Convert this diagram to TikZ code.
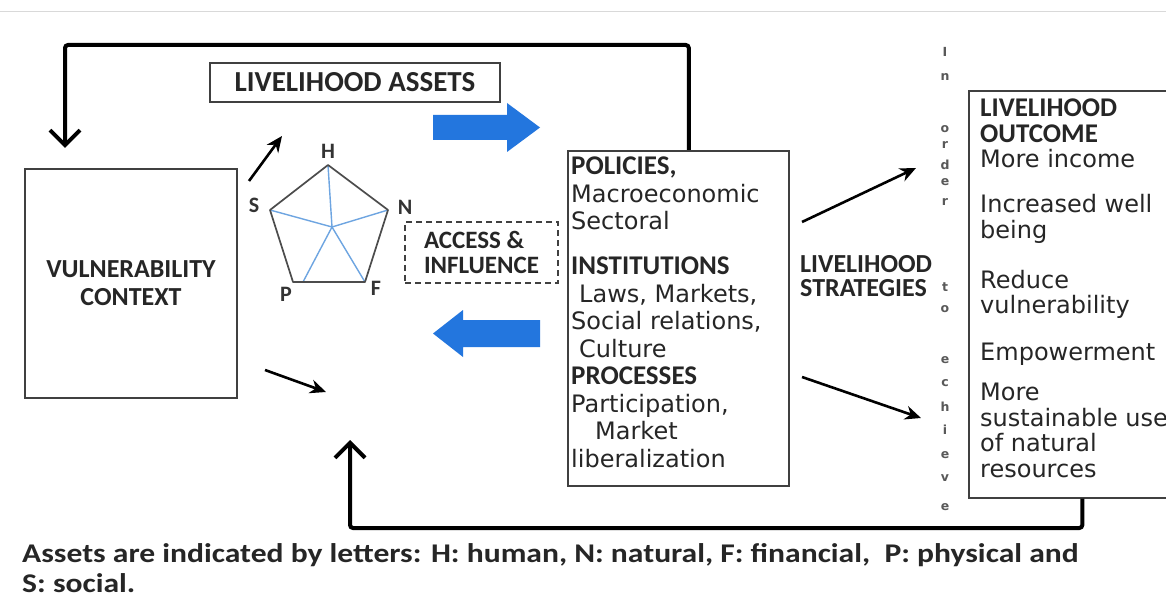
\documentclass[tikz,border=0pt]{standalone}
\usepackage{fontspec}
\setmainfont{DejaVu Sans}
\newfontfamily\calib{Carlito}
\newfontfamily\calibwide{Carlito}[FakeStretch=1.17]
\usetikzlibrary{arrows.meta}
\definecolor{arrowblue}{RGB}{35,118,222}
\definecolor{spokeblue}{RGB}{110,165,225}
\newcommand{\hd}{\calib\bfseries\fontsize{27}{27}\selectfont}
\newcommand{\bd}{\fontsize{24}{27.5}\selectfont}
\tikzset{
  box/.style={draw=black!75, line width=1.6pt, inner sep=0pt},
  txt/.style={align=left, inner sep=0pt, text=black!85},
  captxt/.style={inner sep=0pt, anchor=base west, text=black!85, font={\calibwide\bfseries\fontsize{27}{27}\selectfont}},
  feedback/.style={line width=4pt, rounded corners=3pt, -{Straight Barb[length=15pt,width=30pt]}},
  sarrow/.style={line width=2.6pt, -{Stealth[length=16pt,width=14pt]}},
  pent/.style={draw=black!70, line width=1.7pt, line join=round},
  spoke/.style={draw=spokeblue, line width=1.4pt},
  lbl/.style={inner sep=0pt, text=black!80, font=\calib\bfseries\fontsize{22}{22}\selectfont},
  vlet/.style={inner sep=0pt, text=black!65, font=\bfseries\fontsize{12.5}{12.5}\selectfont}
}
\begin{document}
\begin{tikzpicture}[x=1pt, y=-1pt]
    \useasboundingbox (0,0) rectangle (1166,601);
    \clip (0,0) rectangle (1166,601);
    \fill[white] (0,0) rectangle (1166,601);
    \draw[black!15, line width=0.8pt] (0,11) -- (1166,11);

    \node[box, minimum width=212, minimum height=229, align=center, text=black!85,
          font={\hd\fontsize{26}{28}\selectfont}] (vul) at (131,283.5) {VULNERABILITY\\CONTEXT};
    \node[box, minimum width=290, minimum height=39, text=black!85,
          font={\hd\fontsize{29}{30}\selectfont}] (assets) at (355,82.5) {LIVELIHOOD ASSETS};
    \node[box, dashed, dash pattern=on 6pt off 4pt, minimum width=153, minimum height=61, align=left,
          text=black!85, font={\hd\fontsize{25}{25}\selectfont}] (access) at (481.5,252.5) {ACCESS \&\\INFLUENCE};

    \node[box, minimum width=221, minimum height=335, anchor=north west] (pol) at (567,150) {};
    \node[txt, anchor=north west, font=\bd] (poltxt) at (571,157)
        {{\hd POLICIES,}\\ Macroeconomic\\ Sectoral\\[17.5pt]
         {\hd INSTITUTIONS}\\ \hspace*{8pt}Laws, Markets,\\ Social relations,\\ \hspace*{8pt}Culture\\
         {\hd PROCESSES}\\ Participation,\\ \hspace*{24pt}Market\\ liberalization};

    \node[txt, anchor=north west, font={\hd\fontsize{26}{24}\selectfont}] (strat) at (800,255)
        {LIVELIHOOD\\STRATEGIES};

    \node[box, minimum width=215, minimum height=407, anchor=north west] (outc) at (968,90) {};
    \node[txt, anchor=north west, font={\fontsize{24}{25.5}\selectfont}] (outctxt) at (980,98.6)
        {{\hd LIVELIHOOD}\\ {\hd OUTCOME}\\ More income\\[19.5pt] Increased well\\ being\\[24.5pt]
         Reduce\\ vulnerability\\[21.5pt] Empowerment\\[14.5pt] More\\ sustainable use\\ of natural\\ resources};

    \foreach \ch/\yy in {I/52, n/77, o/129, r/145, d/165, e/182, r/202, t/287, o/309,
                         e/360, c/383, h/407, i/430, e/455, v/478, e/507}
        \node[vlet] at (945,\yy) {\ch};

    \coordinate (H) at (328,165);
    \coordinate (N) at (388,210);
    \coordinate (F) at (365,282);
    \coordinate (P) at (293,282);
    \coordinate (S) at (270,210);
    \coordinate (hub) at (332,227);
    \foreach \v in {H,N,F,S}
        \draw[spoke] (hub) -- (\v);
    \draw[spoke] (hub) -- ([xshift=10pt]P);
    \draw[pent] (H) -- (N) -- (F) -- (P) -- (S) -- cycle;
    \node[lbl] (hlbl) at (328,151) {H};
    \node[lbl] (nlbl) at (405,207) {N};
    \node[lbl] (flbl) at (376,288) {F};
    \node[lbl] (plbl) at (286,294) {P};
    \node[lbl] (slbl) at (254,205) {S};

    \fill[arrowblue] (433,115) -- (507,115) -- (507,103) -- (540,127.5) -- (507,152) -- (507,140) -- (433,140) -- cycle;
    \fill[arrowblue] (540,320) -- (463,320) -- (463,310) -- (433,333.5) -- (463,357) -- (463,347) -- (540,347) -- cycle;

    \coordinate (topl) at (65,45);
    \coordinate (vultip) at (65,148);
    \coordinate (botl) at (350,528);
    \coordinate (midtip) at (350,440);
    \draw[feedback] ([xshift=10.5pt]pol.north) |- (topl) -- (vultip);
    \draw[feedback] ([xshift=6pt]outc.south) |- (botl) -- (midtip);

    \coordinate (s0) at (249,181);
    \coordinate (s1) at (282,136);
    \coordinate (v0) at (265,370);
    \coordinate (v1) at (326,392);
    \coordinate (up0) at (802,222);
    \coordinate (up1) at (916,168);
    \coordinate (dn0) at (802,377);
    \coordinate (dn1) at (921,418);
    \draw[sarrow] (s0) -- (s1);
    \draw[sarrow] (v0) -- (v1);
    \draw[sarrow] (up0) -- (up1);
    \draw[sarrow] (dn0) -- (dn1);

    \node[captxt] (caption1) at (22,562)
        {Assets are indicated by letters: H: human, N: natural, F: financial,\ \ P: physical and};
    \node[captxt] (caption2) at (22,592) {S: social.};
\end{tikzpicture}
\end{document}
